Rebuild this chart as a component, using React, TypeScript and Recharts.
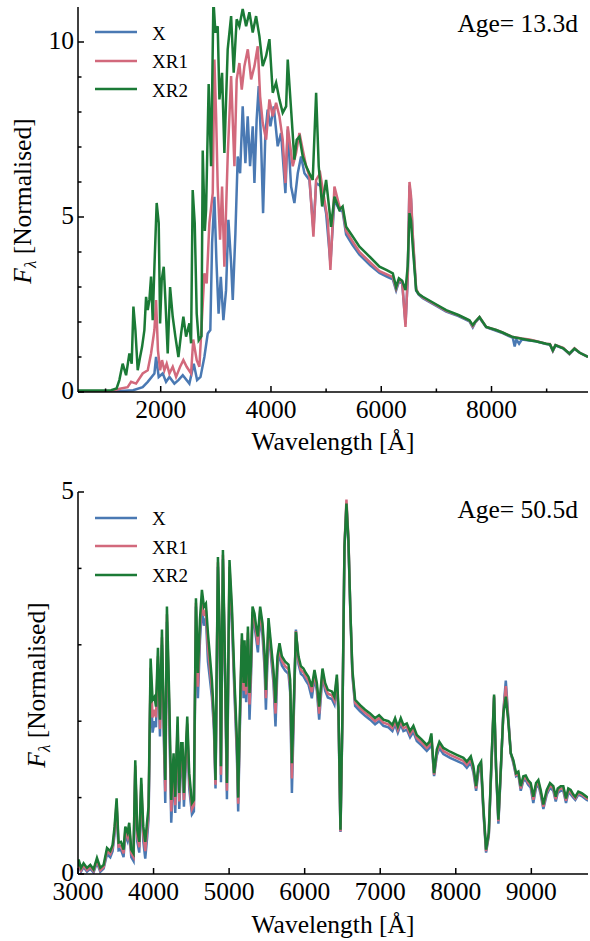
import { LineChart, Line, XAxis, YAxis, Legend, Customized } from "recharts";

const FONT = "'Liberation Serif', 'DejaVu Serif', serif";
const COLORS = { X: "#4a79b3", XR1: "#d2697c", XR2: "#1b7a36" };

// ---- early epoch (Age = 13.3 d): [wavelength Å, normalised flux]
const earlyX: [number, number][] = [
  [500, 0.01], [1200, 0.02], [1500, 0.05], [1673, 0.14], [1765, 0.29], [1886, 0.53], [1916, 1.0], [1964, 0.43],
  [2037, 0.53], [2097, 0.29], [2158, 0.43], [2248, 0.24], [2321, 0.34], [2400, 0.48], [2520, 0.24], [2600, 0.81],
  [2660, 0.34], [2722, 0.43], [2792, 1.0], [2853, 1.67], [2900, 1.77], [2932, 4.25], [2974, 5.58], [3010, 3.77],
  [3050, 2.24], [3090, 3.29], [3137, 2.05], [3185, 2.91], [3228, 4.92], [3277, 3.68], [3307, 2.63], [3355, 4.54],
  [3397, 6.73], [3440, 6.25], [3487, 8.16], [3536, 6.54], [3578, 7.88], [3621, 6.45], [3669, 7.59], [3700, 5.97],
  [3740, 7.78], [3778, 8.74], [3821, 7.12], [3857, 5.11], [3899, 7.4], [3940, 8.07], [3990, 7.59], [4050, 8.16],
  [4122, 7.02], [4183, 7.4], [4262, 5.68], [4304, 7.5], [4365, 5.87], [4425, 5.4], [4486, 6.25], [4546, 6.73],
  [4607, 6.25], [4697, 6.06], [4770, 4.63], [4819, 5.97], [4910, 5.87], [5000, 5.11], [5078, 3.68], [5151, 5.49],
  [5242, 5.2], [5300, 5.15], [5363, 4.5], [5480, 4.2], [5605, 3.92], [5800, 3.62], [5968, 3.4], [6100, 3.3],
  [6210, 3.22], [6270, 2.9], [6320, 3.15], [6380, 3.1], [6440, 1.95], [6480, 3.2], [6512, 5.9], [6540, 5.5],
  [6572, 4.4], [6633, 2.9], [6680, 2.78], [6754, 2.68], [7000, 2.46], [7178, 2.3], [7400, 2.17], [7600, 2.02],
  [7660, 1.85], [7700, 1.97], [7782, 2.12], [7903, 1.85], [8085, 1.75], [8200, 1.68], [8386, 1.55], [8420, 1.3],
  [8450, 1.5], [8500, 1.38], [8550, 1.5], [8689, 1.47], [8800, 1.45], [8991, 1.37], [9060, 1.36], [9112, 1.17],
  [9160, 1.33], [9300, 1.25], [9414, 1.08], [9505, 1.23], [9600, 1.12], [9750, 1.0],
];

const earlyXR1: [number, number][] = [
  [500, 0.02], [1100, 0.03], [1280, 0.1], [1400, 0.14], [1463, 0.29], [1553, 0.24], [1673, 0.53], [1765, 0.62],
  [1825, 1.1], [1886, 1.77], [1916, 2.63], [1950, 1.19], [1989, 0.62], [2024, 0.91], [2067, 0.62], [2109, 0.81],
  [2158, 0.53], [2218, 0.72], [2279, 0.43], [2352, 0.72], [2411, 0.91], [2471, 0.72], [2551, 0.53], [2590, 1.5],
  [2653, 0.91], [2702, 0.72], [2750, 2.15], [2792, 3.39], [2834, 3.1], [2883, 4.83], [2944, 5.68], [2974, 9.5],
  [3005, 7.88], [3034, 5.87], [3077, 4.35], [3113, 5.87], [3155, 3.58], [3215, 6.73], [3277, 9.03], [3337, 6.45],
  [3378, 8.93], [3427, 9.4], [3470, 8.64], [3518, 9.31], [3580, 9.79], [3640, 8.93], [3700, 9.31], [3760, 9.88],
  [3803, 8.45], [3850, 7.69], [3912, 7.21], [3972, 8.36], [4032, 7.88], [4093, 8.26], [4153, 7.88], [4213, 7.21],
  [4262, 5.97], [4304, 7.59], [4395, 6.45], [4455, 6.83], [4516, 7.4], [4576, 6.92], [4638, 6.45], [4697, 6.16],
  [4770, 4.44], [4819, 6.06], [4892, 6.25], [4970, 5.49], [5030, 4.92], [5078, 3.49], [5151, 5.87], [5242, 5.3],
  [5300, 5.25], [5363, 4.6], [5480, 4.3], [5605, 4.0], [5800, 3.7], [5968, 3.45], [6100, 3.36], [6210, 3.28],
  [6270, 2.95], [6320, 3.2], [6380, 3.15], [6440, 1.86], [6480, 3.3], [6512, 6.0], [6540, 5.6], [6572, 4.5],
  [6633, 2.95], [6680, 2.8], [6754, 2.7], [7000, 2.48], [7178, 2.32], [7400, 2.19], [7600, 2.04], [7660, 1.88],
  [7700, 1.99], [7782, 2.14], [7903, 1.86], [8085, 1.77], [8200, 1.7], [8386, 1.57], [8450, 1.56], [8550, 1.53],
  [8689, 1.5], [8800, 1.46], [8991, 1.38], [9060, 1.37], [9112, 1.18], [9160, 1.34], [9300, 1.26], [9414, 1.09],
  [9505, 1.25], [9600, 1.12], [9750, 1.0],
];

const earlyXR2: [number, number][] = [
  [500, 0.04], [800, 0.04], [1100, 0.05], [1200, 0.1], [1250, 0.34], [1310, 0.81], [1372, 0.48], [1432, 1.1],
  [1474, 0.81], [1505, 2.44], [1541, 1.77], [1583, 0.62], [1626, 1.0], [1662, 1.29], [1704, 1.77], [1735, 2.72],
  [1765, 2.34], [1795, 2.63], [1825, 3.3], [1855, 2.05], [1886, 3.58], [1927, 5.4], [1964, 4.83], [1989, 1.96],
  [2018, 3.2], [2055, 3.58], [2085, 2.63], [2127, 1.1], [2170, 3.0], [2218, 2.15], [2266, 1.58], [2321, 1.0],
  [2370, 1.67], [2411, 2.15], [2460, 1.58], [2520, 1.96], [2551, 1.39], [2580, 5.77], [2617, 4.83], [2653, 2.24],
  [2689, 1.48], [2740, 1.6], [2762, 6.9], [2800, 4.6], [2823, 5.2], [2870, 8.8], [2914, 6.45], [2956, 11.2],
  [2992, 10.27], [3034, 10.45], [3065, 8.36], [3113, 9.12], [3155, 6.83], [3215, 9.79], [3277, 10.74], [3324, 9.12],
  [3378, 10.65], [3427, 10.45], [3487, 10.94], [3549, 10.45], [3609, 10.85], [3669, 10.27], [3730, 10.74], [3790, 10.17],
  [3850, 9.31], [3912, 9.6], [3972, 10.08], [4032, 8.55], [4093, 8.84], [4153, 8.36], [4213, 7.98], [4275, 8.16],
  [4304, 9.5], [4365, 8.07], [4425, 6.64], [4467, 7.21], [4516, 7.3], [4576, 6.73], [4638, 6.45], [4697, 6.25],
  [4757, 6.06], [4819, 8.55], [4866, 6.45], [4928, 5.3], [5000, 6.06], [5073, 5.0], [5090, 4.72], [5151, 5.58],
  [5242, 5.2], [5300, 5.3], [5363, 4.72], [5480, 4.45], [5605, 4.15], [5800, 3.85], [5968, 3.58], [6100, 3.48],
  [6210, 3.39], [6270, 3.0], [6320, 3.25], [6380, 3.18], [6440, 2.91], [6480, 3.6], [6512, 5.11], [6540, 4.9],
  [6572, 4.15], [6633, 2.91], [6680, 2.8], [6754, 2.72], [7000, 2.5], [7178, 2.34], [7400, 2.2], [7600, 2.05],
  [7660, 1.91], [7700, 2.0], [7782, 2.14], [7903, 1.86], [8085, 1.77], [8200, 1.7], [8386, 1.57], [8450, 1.55],
  [8550, 1.52], [8689, 1.48], [8800, 1.45], [8991, 1.38], [9060, 1.36], [9112, 1.19], [9160, 1.34], [9300, 1.25],
  [9414, 1.1], [9505, 1.24], [9600, 1.12], [9750, 1.0],
];

// ---- late epoch (Age = 50.5 d): shared wavelength grid
const lateWave = [
  3000, 3008, 3040, 3074, 3119, 3163, 3206, 3251, 3295, 3339,
  3384, 3427, 3458, 3484, 3511, 3537, 3569, 3603, 3626, 3656,
  3678, 3705, 3735, 3758, 3784, 3811, 3837, 3864, 3890, 3917,
  3934, 3961, 3987, 4013, 4032, 4058, 4085, 4111, 4138, 4155,
  4177, 4208, 4234, 4265, 4287, 4318, 4340, 4366, 4384, 4402,
  4419, 4446, 4472, 4508, 4534, 4561, 4587, 4614, 4640, 4667,
  4693, 4720, 4746, 4772, 4799, 4820, 4852, 4878, 4892, 4918,
  4948, 4971, 5005, 5037, 5071, 5103, 5120, 5140, 5169, 5191,
  5204, 5226, 5249, 5270, 5288, 5310, 5336, 5363, 5381, 5411,
  5442, 5469, 5487, 5521, 5557, 5587, 5614, 5640, 5667, 5698,
  5742, 5786, 5808, 5831, 5852, 5884, 5918, 5950, 5984, 6016,
  6050, 6095, 6130, 6161, 6192, 6236, 6271, 6307, 6360, 6394,
  6426, 6447, 6474, 6500, 6527, 6553, 6579, 6606, 6632, 6668,
  6734, 6800, 6866, 6932, 6985, 7042, 7108, 7161, 7197, 7233,
  7272, 7307, 7352, 7395, 7439, 7484, 7550, 7616, 7651, 7677,
  7713, 7749, 7783, 7836, 7925, 8013, 8101, 8146, 8199, 8233,
  8269, 8299, 8335, 8365, 8401, 8437, 8471, 8507, 8533, 8564,
  8595, 8630, 8662, 8693, 8728, 8762, 8798, 8828, 8860, 8894,
  8926, 8956, 8992, 9026, 9062, 9093, 9124, 9159, 9204, 9247,
  9291, 9323, 9349, 9389, 9423, 9459, 9489, 9521, 9556, 9582,
  9622, 9667, 9733, 9777,
];

const lateX = [
  0.05, 0.13, 0.03, 0.09, 0.03, 0.07, 0.02, 0.15, 0.03, 0.07,
  0.26, 0.22, 0.3, 0.52, 0.88, 0.31, 0.32, 0.22, 0.51, 0.43,
  0.56, 0.22, 0.17, 1.36, 0.43, 0.28, 1.1, 0.43, 0.2, 0.5,
  0.72, 2.6, 1.85, 2.0, 1.92, 2.75, 1.8, 3.0, 1.7, 0.93,
  3.3, 2.05, 0.67, 1.38, 0.8, 1.85, 0.85, 1.5, 1.5, 0.88,
  1.28, 1.88, 1.12, 0.78, 0.82, 3.5, 2.3, 3.05, 3.48, 3.25,
  3.35, 2.78, 2.55, 2.32, 1.9, 1.12, 4.02, 2.75, 1.2, 4.12,
  2.48, 0.98, 3.95, 3.3, 2.35, 1.55, 0.82, 1.8, 3.0, 2.3,
  2.9, 2.25, 3.08, 2.02, 2.52, 3.36, 3.25, 3.05, 2.9, 3.38,
  3.12, 2.7, 2.15, 3.2, 2.82, 2.5, 1.93, 2.7, 2.9, 2.73,
  2.66, 2.62, 2.38, 1.06, 1.9, 3.2, 2.75, 2.62, 2.59, 2.53,
  2.48, 2.3, 2.57, 2.4, 2.02, 2.6, 2.4, 2.31, 2.29, 2.22,
  2.51, 2.09, 0.55, 2.02, 4.27, 4.83, 4.35, 3.38, 2.59, 2.2,
  2.13, 2.07, 2.02, 1.96, 2.0, 1.94, 1.92, 1.87, 1.96, 1.85,
  1.96, 1.87, 1.89, 1.79, 1.86, 1.74, 1.68, 1.61, 1.65, 1.76,
  1.28, 1.55, 1.65, 1.57, 1.52, 1.48, 1.44, 1.39, 1.46, 1.33,
  1.09, 1.33, 1.39, 0.82, 0.28, 0.5, 1.39, 2.31, 1.37, 0.66,
  1.32, 2.14, 2.53, 2.08, 1.58, 1.45, 1.28, 1.3, 1.09, 1.22,
  1.23, 1.17, 1.13, 0.93, 1.13, 1.17, 1.04, 0.85, 1.04, 1.13,
  1.09, 0.95, 1.06, 1.09, 1.09, 0.93, 1.06, 1.04, 1.0, 0.97,
  1.04, 1.02, 0.97, 0.95,
];

const lateXR1 = [
  0.07, 0.16, 0.05, 0.11, 0.05, 0.09, 0.04, 0.18, 0.05, 0.09,
  0.3, 0.26, 0.34, 0.57, 0.93, 0.36, 0.37, 0.27, 0.56, 0.48,
  0.61, 0.27, 0.22, 1.42, 0.5, 0.35, 1.18, 0.52, 0.3, 0.6,
  0.8, 2.7, 2.05, 2.15, 2.05, 2.85, 1.9, 3.1, 1.8, 1.08,
  3.4, 2.15, 0.82, 1.48, 0.9, 1.95, 0.95, 1.6, 1.6, 0.97,
  1.37, 1.97, 1.22, 0.85, 0.9, 3.55, 2.45, 3.2, 3.6, 3.38,
  3.45, 2.95, 2.7, 2.42, 1.97, 1.17, 4.08, 2.9, 1.3, 4.18,
  2.55, 1.09, 4.02, 3.4, 2.45, 1.65, 0.92, 1.9, 3.08, 2.4,
  2.98, 2.35, 3.16, 2.22, 2.62, 3.43, 3.33, 3.12, 3.0, 3.44,
  3.2, 2.8, 2.3, 3.28, 2.9, 2.58, 2.1, 2.78, 2.96, 2.79,
  2.72, 2.68, 2.46, 1.25, 2.0, 3.18, 2.8, 2.67, 2.64, 2.58,
  2.53, 2.38, 2.62, 2.45, 2.1, 2.65, 2.45, 2.36, 2.34, 2.27,
  2.56, 2.14, 0.56, 2.06, 4.3, 4.9, 4.4, 3.4, 2.63, 2.24,
  2.17, 2.11, 2.06, 2.0, 2.04, 1.98, 1.96, 1.91, 2.0, 1.89,
  2.0, 1.91, 1.93, 1.83, 1.9, 1.78, 1.72, 1.65, 1.69, 1.8,
  1.3, 1.59, 1.69, 1.61, 1.56, 1.52, 1.48, 1.43, 1.5, 1.37,
  1.12, 1.37, 1.43, 0.85, 0.3, 0.52, 1.42, 2.33, 1.39, 0.69,
  1.34, 2.12, 2.46, 2.05, 1.58, 1.47, 1.3, 1.32, 1.12, 1.25,
  1.26, 1.2, 1.16, 0.97, 1.16, 1.2, 1.07, 0.88, 1.07, 1.16,
  1.12, 0.98, 1.09, 1.12, 1.12, 0.96, 1.09, 1.07, 1.02, 0.99,
  1.06, 1.04, 0.99, 0.97,
];

const lateXR2 = [
  0.1, 0.19, 0.08, 0.14, 0.08, 0.12, 0.06, 0.21, 0.08, 0.12,
  0.34, 0.3, 0.38, 0.62, 0.99, 0.41, 0.42, 0.32, 0.62, 0.54,
  0.67, 0.32, 0.27, 1.49, 0.58, 0.42, 1.26, 0.62, 0.42, 0.71,
  0.88, 2.82, 2.28, 2.32, 2.19, 2.96, 2.02, 3.2, 1.93, 1.23,
  3.5, 2.28, 0.97, 1.58, 1.01, 2.06, 1.06, 1.71, 1.71, 1.06,
  1.45, 2.06, 1.32, 0.93, 0.97, 3.61, 2.63, 3.33, 3.72, 3.5,
  3.54, 3.15, 2.85, 2.54, 2.06, 1.23, 4.15, 3.06, 1.41, 4.24,
  2.63, 1.19, 4.11, 3.5, 2.54, 1.76, 1.0, 2.0, 3.15, 2.5,
  3.06, 2.45, 3.24, 2.37, 2.72, 3.5, 3.41, 3.2, 3.11, 3.5,
  3.28, 2.89, 2.41, 3.35, 2.98, 2.67, 2.24, 2.85, 3.02, 2.85,
  2.78, 2.74, 2.54, 1.45, 2.1, 3.17, 2.85, 2.72, 2.69, 2.63,
  2.58, 2.45, 2.67, 2.5, 2.19, 2.69, 2.5, 2.41, 2.39, 2.32,
  2.61, 2.19, 0.58, 2.1, 4.28, 4.85, 4.37, 3.41, 2.67, 2.28,
  2.21, 2.15, 2.1, 2.04, 2.08, 2.02, 2.0, 1.95, 2.04, 1.93,
  2.04, 1.95, 1.97, 1.87, 1.94, 1.82, 1.76, 1.69, 1.73, 1.84,
  1.32, 1.63, 1.73, 1.65, 1.6, 1.56, 1.52, 1.47, 1.54, 1.41,
  1.15, 1.41, 1.47, 0.88, 0.32, 0.54, 1.45, 2.35, 1.41, 0.71,
  1.36, 2.1, 2.32, 2.02, 1.58, 1.49, 1.32, 1.34, 1.15, 1.28,
  1.29, 1.23, 1.19, 1.01, 1.19, 1.23, 1.1, 0.91, 1.1, 1.19,
  1.15, 1.01, 1.12, 1.15, 1.15, 0.99, 1.12, 1.1, 1.04, 1.01,
  1.08, 1.06, 1.01, 0.99,
];

const earlyXTicks = [1000, 2000, 3000, 4000, 5000, 6000, 7000, 8000, 9000];
const earlyYTicks = [0, 1, 2, 3, 4, 5, 6, 7, 8, 9, 10];
const lateXTicks = [3000, 4000, 5000, 6000, 7000, 8000, 9000];
const lateYTicks = [0, 1, 2, 3, 4, 5];

type Pt = { w: number; f: number };
const fromPairs = (pairs: [number, number][]): Pt[] => pairs.map(([w, f]) => ({ w, f }));
const fromGrid = (flux: number[]): Pt[] => lateWave.map((w, i) => ({ w, f: flux[i] }));

const serif = { fontFamily: FONT };

const makeXTick = (majorEvery: number, side: "bottom" | "top") => (props: any) => {
  const { x, y, payload } = props;
  const major = payload.value % majorEvery === 0;
  const len = major ? 6 : 3.5;
  const dir = side === "bottom" ? -1 : 1;
  return (
    <g>
      <line x1={x} x2={x} y1={y} y2={y + dir * len} stroke="#000" strokeWidth={1.5} />
      {side === "bottom" && major && (
        <text x={x} y={y + 25.5} textAnchor="middle" fontSize={25.5} style={serif} fill="#000">
          {payload.value}
        </text>
      )}
    </g>
  );
};

const makeYTick = (majorEvery: number, side: "left" | "right") => (props: any) => {
  const { x, y, payload } = props;
  const major = payload.value % majorEvery === 0;
  const len = major ? 6 : 3.5;
  const dir = side === "left" ? 1 : -1;
  return (
    <g>
      <line x1={x} x2={x + dir * len} y1={y} y2={y} stroke="#000" strokeWidth={1.5} />
      {side === "left" && major && (
        <text x={x - 4} y={y} dy="0.27em" textAnchor="end" fontSize={25.5} style={serif} fill="#000">
          {payload.value}
        </text>
      )}
    </g>
  );
};

const renderLegend = ({ payload }: any) => (
  <div style={{ fontFamily: FONT, fontSize: 19, color: "#000" }}>
    {payload.map((p: any) => (
      <div key={p.value} style={{ display: "flex", alignItems: "center", height: 28.5 }}>
        <svg width={42} height={4} style={{ display: "block" }}>
          <line x1={0} x2={42} y1={2} y2={2} stroke={p.color} strokeWidth={2.5} />
        </svg>
        <span style={{ marginLeft: 15, paddingTop: 3, lineHeight: "20px" }}>{p.value}</span>
      </div>
    ))}
  </div>
);

const Annotations = ({ age, ageY, labelX, labelY }: any) => (
  <g fill="#000">
    <text x={578} y={ageY} textAnchor="end" fontSize={25.5} style={serif}>
      {age}
    </text>
    <text
      transform={`rotate(-90 ${labelX} ${labelY})`}
      x={labelX}
      y={labelY}
      textAnchor="middle"
      fontSize={25.5}
      style={serif}
    >
      <tspan fontStyle="italic">F</tspan>
      <tspan fontStyle="italic" fontSize={17} dy={5}>
        λ
      </tspan>
      <tspan dy={-5}>{"\u00a0[Normalised]"}</tspan>
    </text>
  </g>
);

interface PanelProps {
  x: Pt[];
  xr1: Pt[];
  xr2: Pt[];
  height: number;
  marginTop: number;
  marginBottom: number;
  xDomain: [number, number];
  yDomain: [number, number];
  xTicks: number[];
  xMajor: number;
  yTicks: number[];
  age: string;
  ageY: number;
  labelX: number;
  labelY: number;
  legendTop: number;
  xLabelOffset: number;
}

function SpectrumPanel(p: PanelProps) {
  return (
    <LineChart
      width={590}
      height={p.height}
      margin={{ top: p.marginTop, right: 2, bottom: p.marginBottom, left: 18 }}
      style={serif}
    >
      <XAxis
        dataKey="w"
        type="number"
        domain={p.xDomain}
        ticks={p.xTicks}
        interval={0}
        allowDataOverflow
        height={60}
        axisLine={{ stroke: "#000", strokeWidth: 1.5 }}
        tickLine={false}
        tickSize={0}
        tickMargin={0}
        tick={makeXTick(p.xMajor, "bottom")}
        label={{
          value: "Wavelength [Å]",
          position: "insideBottom",
          offset: p.xLabelOffset,
          fontSize: 25.5,
          style: serif,
          fill: "#000",
        }}
      />
      <XAxis
        xAxisId="top"
        orientation="top"
        dataKey="w"
        type="number"
        domain={p.xDomain}
        ticks={p.xTicks}
        interval={0}
        allowDataOverflow
        height={0}
        axisLine={{ stroke: "#000", strokeWidth: 1.5 }}
        tickLine={false}
        tickSize={0}
        tickMargin={0}
        tick={makeXTick(p.xMajor, "top")}
      />
      <YAxis
        type="number"
        domain={p.yDomain}
        ticks={p.yTicks}
        interval={0}
        allowDataOverflow
        width={60}
        axisLine={{ stroke: "#000", strokeWidth: 1.5 }}
        tickLine={false}
        tickSize={0}
        tickMargin={0}
        tick={makeYTick(5, "left")}
      />
      <YAxis
        yAxisId="right"
        orientation="right"
        type="number"
        domain={p.yDomain}
        ticks={p.yTicks}
        interval={0}
        allowDataOverflow
        width={0}
        axisLine={{ stroke: "#000", strokeWidth: 1.5 }}
        tickLine={false}
        tickSize={0}
        tickMargin={0}
        tick={makeYTick(5, "right")}
      />
      <Line data={p.x} dataKey="f" name="X" type="linear" stroke={COLORS.X} strokeWidth={2.5} dot={false} isAnimationActive={false} />
      <Line data={p.xr1} dataKey="f" name="XR1" type="linear" stroke={COLORS.XR1} strokeWidth={2.5} dot={false} isAnimationActive={false} />
      <Line data={p.xr2} dataKey="f" name="XR2" type="linear" stroke={COLORS.XR2} strokeWidth={2.5} dot={false} isAnimationActive={false} />
      <Legend
        layout="vertical"
        align="center"
        verticalAlign="middle"
        content={renderLegend}
        wrapperStyle={{ left: 95, top: p.legendTop, width: 120, height: 90 }}
      />
      <Customized
        component={<Annotations age={p.age} ageY={p.ageY} labelX={p.labelX} labelY={p.labelY} />}
      />
    </LineChart>
  );
}

export default function App() {
  return (
    <div style={{ position: "absolute", left: 0, top: 0, width: 590, height: 941, background: "#fff" }}>
      <div style={{ position: "absolute", left: 0, top: 0 }}>
        <SpectrumPanel
          x={fromPairs(earlyX)}
          xr1={fromPairs(earlyXR1)}
          xr2={fromPairs(earlyXR2)}
          height={470}
          marginTop={7}
          marginBottom={18}
          xDomain={[500, 9750]}
          yDomain={[0, 11]}
          xTicks={earlyXTicks}
          xMajor={2000}
          yTicks={earlyYTicks}
          age="Age= 13.3d"
          ageY={32}
          labelX={31}
          labelY={201}
          legendTop={18}
          xLabelOffset={2}
        />
      </div>
      <div style={{ position: "absolute", left: 0, top: 470 }}>
        <SpectrumPanel
          x={fromGrid(lateX)}
          xr1={fromGrid(lateXR1)}
          xr2={fromGrid(lateXR2)}
          height={471}
          marginTop={22}
          marginBottom={7}
          xDomain={[3000, 9750]}
          yDomain={[0, 5]}
          xTicks={lateXTicks}
          xMajor={1000}
          yTicks={lateYTicks}
          age="Age= 50.5d"
          ageY={48}
          labelX={45}
          labelY={215}
          legendTop={33.5}
          xLabelOffset={1}
        />
      </div>
    </div>
  );
}
